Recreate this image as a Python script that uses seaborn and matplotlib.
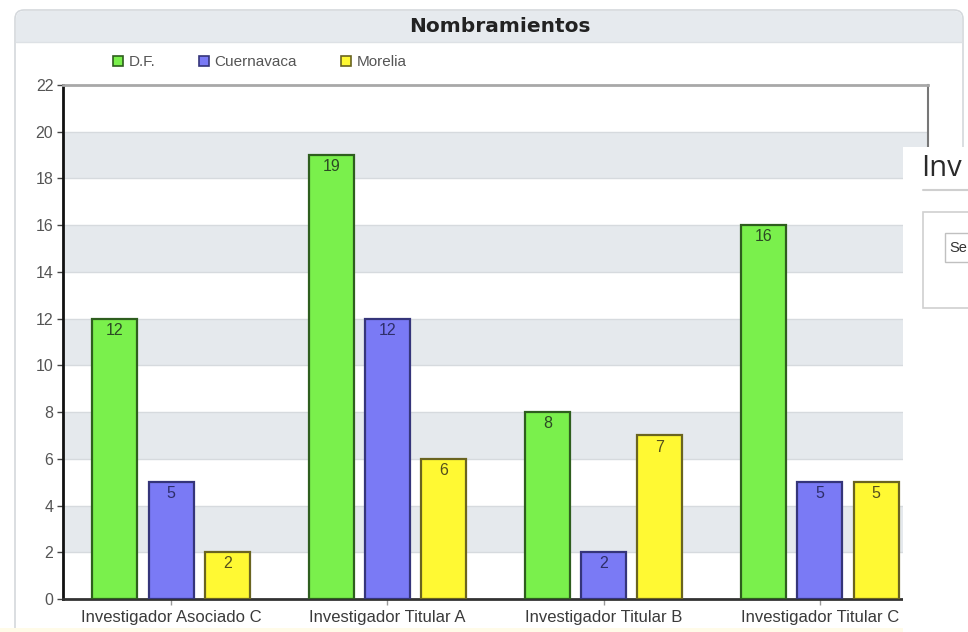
import numpy as np
import pandas as pd
import matplotlib
matplotlib.use("Agg")
import matplotlib.pyplot as plt
import seaborn as sns
from matplotlib.patches import FancyBboxPatch, Rectangle, Patch

# ---- data ----
categories = ["Investigador Asociado C", "Investigador Titular A",
              "Investigador Titular B", "Investigador Titular C"]
series = ["D.F.", "Cuernavaca", "Morelia"]
df_values = [12, 19, 8, 16]
cuernavaca_values = [5, 12, 2, 5]
morelia_values = [2, 6, 7, 5]
y_ticks = list(range(0, 23, 2))
chart_title = "Nombramientos"

# ---- styles ----
fill_colors = {"D.F.": "#7AF04C", "Cuernavaca": "#7A7AF5", "Morelia": "#FFF933"}
edge_colors = {"D.F.": "#2E5E1E", "Cuernavaca": "#35357A", "Morelia": "#6A6420"}
label_colors = {"D.F.": "#2C4A24", "Cuernavaca": "#2E2E6A", "Morelia": "#55501C"}

rows = []
for s, vals in zip(series, [df_values, cuernavaca_values, morelia_values]):
    for c, v in zip(categories, vals):
        rows.append({"category": c, "series": s, "value": v})
data = pd.DataFrame(rows)

W, H = 968, 632
sns.set_theme(style="white")
plt.rcParams['font.family'] = ['Liberation Sans', 'DejaVu Sans']

fig = plt.figure(figsize=(W / 100, H / 100), dpi=100)
fig.patch.set_facecolor("white")

# background decoration axes (pixel coordinates)
bg = fig.add_axes([0, 0, 1, 1], zorder=-1)
bg.set_xlim(0, W)
bg.set_ylim(H, 0)
bg.axis("off")
bg.add_patch(FancyBboxPatch((15, 10), 948, 660, boxstyle="round,pad=0,rounding_size=9",
                            facecolor="white", edgecolor="#d4d8dc", linewidth=1.2))
bg.add_patch(FancyBboxPatch((16, 11), 946, 31, boxstyle="round,pad=0,rounding_size=8",
                            facecolor="#e6eaee", edgecolor="none"))
bg.add_patch(Rectangle((16, 28), 946, 14, facecolor="#e6eaee", edgecolor="none"))
bg.plot([16, 962], [42, 42], color="#dde1e5", lw=1)
bg.add_patch(Rectangle((0, 628), W, 4, facecolor="#fffbe8", edgecolor="none"))
bg.text(500, 27, chart_title, ha="center", va="center", fontsize=14.5,
        fontweight="bold", family="DejaVu Sans", color="#222222")

# main axes
ax = fig.add_axes([63 / W, 1 - 599 / H, (928 - 63) / W, (599 - 85) / H])
palette = [fill_colors[s] for s in series]
sns.barplot(data=data, x="category", y="value", hue="series", order=categories,
            hue_order=series, palette=palette, saturation=1, width=0.78, gap=0.2,
            linewidth=1.6, legend=False, ax=ax, zorder=3)

for cont, s in zip(ax.containers, series):
    for bar in cont:
        bar.set_edgecolor(edge_colors[s])
        h = bar.get_height()
        ax.annotate(f"{int(h)}", (bar.get_x() + bar.get_width() / 2, h),
                    xytext=(0, -3), textcoords="offset points", ha="center", va="top",
                    fontsize=11.5, color=label_colors[s], zorder=4)

for k in range(2, 22, 4):
    ax.axhspan(k, k + 2, color="#e5e9ed", zorder=0.5, lw=0)
for t in y_ticks[1:-1]:
    ax.axhline(t, color="#d6dade", lw=1, zorder=0.6)

ax.set_ylim(0, 22)
ax.set_xlim(-0.5, 3.5)
ax.set_yticks(y_ticks)
ax.set_xlabel("")
ax.set_ylabel("")
ax.set_facecolor("white")
ax.tick_params(axis="y", direction="out", length=4, width=1, color="#444444",
               labelsize=11.5, labelcolor="#555555", pad=3, left=True)
ax.tick_params(axis="x", direction="out", length=4, width=1, color="#999999",
               labelsize=12, labelcolor="#3a3a3a", pad=4, bottom=True)
ax.spines["left"].set_color("#111111")
ax.spines["left"].set_linewidth(2)
ax.spines["bottom"].set_color("#333333")
ax.spines["bottom"].set_linewidth(2)
ax.spines["top"].set_color("#a8a8a8")
ax.spines["top"].set_linewidth(2)
ax.spines["right"].set_color("#777777")
ax.spines["right"].set_linewidth(1.5)

# legend
handles = [Patch(facecolor=fill_colors[s], edgecolor=edge_colors[s], linewidth=1.2, label=s)
           for s in series]
fig.legend(handles=handles, loc="center left", bbox_to_anchor=(113 / W, 1 - 62 / H),
           ncol=3, frameon=False, fontsize=11, handlelength=0.65, handleheight=0.65,
           handletextpad=0.35, columnspacing=2.9, borderpad=0, borderaxespad=0,
           labelcolor="#555555")

# overlay panel on the right (covers part of the chart)
ov = fig.add_axes([0, 0, 1, 1], zorder=10)
ov.set_xlim(0, W)
ov.set_ylim(H, 0)
ov.axis("off")
ov.patch.set_visible(False)
ov.add_patch(Rectangle((903, 147), 80, 500, facecolor="white", edgecolor="none"))
ov.text(921, 169, "Inv", ha="left", va="center", fontsize=21, family="Open Sans",
        color="#2a2a2a")
ov.plot([923, 970], [190, 190], color="#cfcfcf", lw=1.5)
ov.add_patch(Rectangle((923, 212), 60, 96, facecolor="white", edgecolor="#d0d0d0", lw=1.2))
ov.add_patch(Rectangle((945, 233), 40, 29, facecolor="white", edgecolor="#c0c0c0", lw=1))
ov.text(949, 248, "Se", ha="left", va="center", fontsize=10.5, color="#333333")

fig.savefig("out.png", dpi=100, facecolor="white")
